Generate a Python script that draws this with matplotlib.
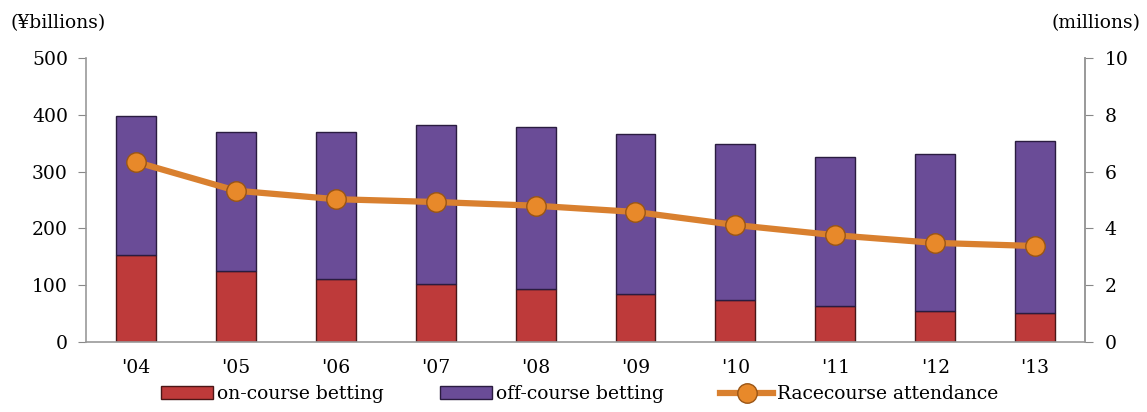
import matplotlib
matplotlib.use("Agg")
import matplotlib.pyplot as plt
import numpy as np

years = ["'04", "'05", "'06", "'07", "'08", "'09", "'10", "'11", "'12", "'13"]
on_course = [153, 125, 111, 102, 93, 85, 74, 63, 55, 51]
off_course = [245, 245, 259, 280, 286, 281, 275, 263, 276, 303]
attendance = [6.34, 5.33, 5.03, 4.93, 4.80, 4.58, 4.12, 3.76, 3.49, 3.38]

plt.rcParams['font.family'] = ['DejaVu Serif']
FS = 13.5

fig = plt.figure(figsize=(11.47, 4.12), dpi=100)
ax = fig.add_axes([0.075, 0.170, 0.871, 0.689])
x = np.arange(len(years))
w = 0.4
red = '#BE3A3A'
purple = '#6A4C97'
orange = '#D9802F'
b1 = ax.bar(x, on_course, w, color=red, edgecolor='#4a1616', linewidth=1.0, label='on-course betting', zorder=2)
b2 = ax.bar(x, off_course, w, bottom=on_course, color=purple, edgecolor='#2a1c40', linewidth=1.0, label='off-course betting', zorder=2)
ax.set_xlim(-0.5, 9.5)
ax.set_ylim(0, 500)
ax.set_yticks([0, 100, 200, 300, 400, 500])
ax.set_xticks(x)
ax.set_xticklabels(years)
ax.tick_params(axis='x', length=0, pad=12, labelsize=FS)
ax.tick_params(axis='y', length=6, color='#888888', labelsize=FS, pad=7)
ax.spines['top'].set_visible(False)
for s in ['left', 'bottom', 'right']:
    ax.spines[s].set_color('#999999')
    ax.spines[s].set_linewidth(1.2)

ax2 = ax.twinx()
ax2.set_ylim(0, 10)
ax2.set_yticks([0, 2, 4, 6, 8, 10])
ax2.tick_params(axis='y', length=6, color='#888888', labelsize=FS, pad=8)
for s in ['top', 'left', 'bottom']:
    ax2.spines[s].set_visible(False)
ax2.spines['right'].set_color('#999999')
ax2.spines['right'].set_linewidth(1.2)
l, = ax2.plot(x, attendance, color=orange, linewidth=4.5, marker='o', markersize=14,
              markerfacecolor='#E8892A', markeredgecolor='#9a5515', markeredgewidth=1.0,
              label='Racecourse attendance', zorder=3)

fig.text(0.009, 0.945, '(¥billions)', fontsize=FS, ha='left', va='center')
fig.text(0.994, 0.945, '(millions)', fontsize=FS, ha='right', va='center')

fig.legend(handles=[b1, b2, l], loc='lower center', bbox_to_anchor=(0.505, -0.02), ncol=3,
           frameon=False, fontsize=FS, handlelength=2.8, handletextpad=0.2, columnspacing=3.0)

fig.savefig('out.png', dpi=100)
